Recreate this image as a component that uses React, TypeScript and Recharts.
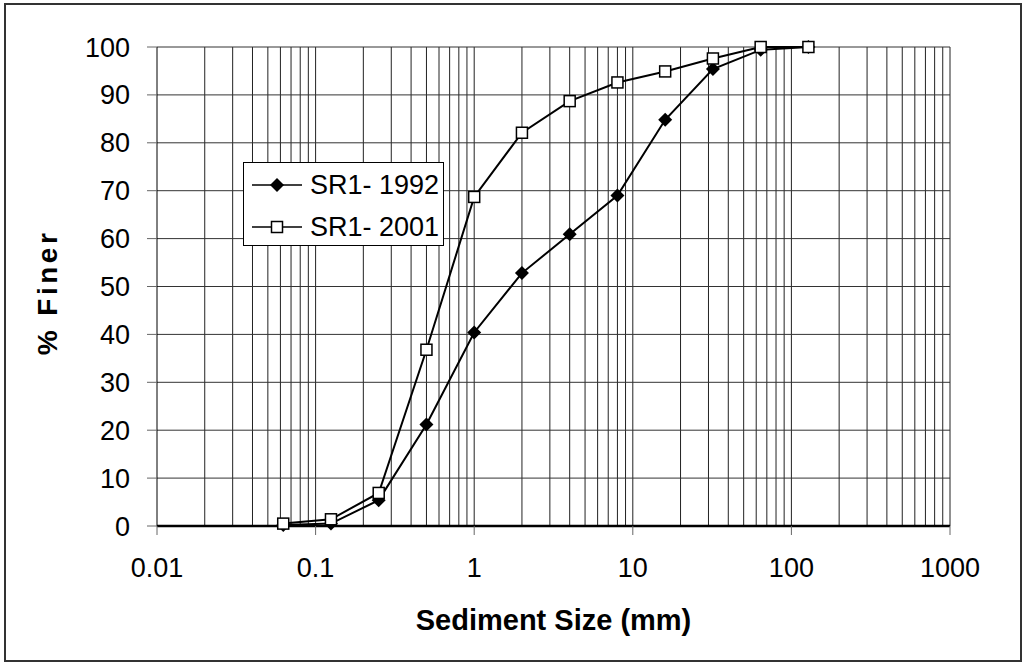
import React from 'react';
import { LineChart, Line, XAxis, YAxis, ReferenceLine } from 'recharts';

// sieve sizes (mm) and percent finer for the two surveys
const SIZES = [0.0625, 0.125, 0.25, 0.5, 1, 2, 4, 8, 16, 32, 64, 128];
const FINER_1992 = [0.2, 0.5, 5.4, 21.2, 40.4, 52.8, 60.9, 69.0, 84.8, 95.4, 99.4, 100];
const FINER_2001 = [0.5, 1.4, 6.9, 36.8, 68.7, 82.1, 88.7, 92.6, 94.9, 97.6, 100, 100];

const X_TICKS = [0.01, 0.1, 1, 10, 100, 1000];
const Y_TICKS = [0, 10, 20, 30, 40, 50, 60, 70, 80, 90, 100];

const SERIES = [
    { key: 'y1992', name: 'SR1- 1992', marker: 'diamond' },
    { key: 'y2001', name: 'SR1- 2001', marker: 'square' },
];

const data = SIZES.map((s, i) => ({ size: s, y1992: FINER_1992[i], y2001: FINER_2001[i] }));

// log-cycle grid: 1..9 in every decade
const minorX: number[] = [];
for (let d = 0; d < 5; d++) {
    for (let m = 1; m <= 9; m++) {
        const v = Number((m * Math.pow(10, d - 2)).toPrecision(3));
        if (v > 0.01) minorX.push(v);
    }
}
minorX.push(1000);

const FONT = 'Arial, "Liberation Sans", sans-serif';

const Diamond = (props: any) => {
    const { cx, cy } = props;
    if (cx == null || cy == null) return null;
    const r = 7;
    return <path d={`M${cx},${cy - r}L${cx + r},${cy}L${cx},${cy + r}L${cx - r},${cy}Z`} fill="#000" />;
};

const Square = (props: any) => {
    const { cx, cy } = props;
    if (cx == null || cy == null) return null;
    return <rect x={cx - 5.5} y={cy - 5.5} width={11} height={11} fill="#fff" stroke="#000" strokeWidth={1.5} />;
};

const LegendBox = () => (
    <div style={{ position: 'absolute', left: 243, top: 162, width: 201, height: 84, border: '1px solid #000', background: '#fff', boxSizing: 'border-box', fontFamily: FONT, fontSize: 27 }}>
        {SERIES.map((s, i) => (
            <div key={s.key} style={{ position: 'absolute', left: 8, top: i === 0 ? 6 : 48, height: 32, display: 'flex', alignItems: 'center' }}>
                <svg width={52} height={20}>
                    <line x1={0} y1={10} x2={50} y2={10} stroke="#000" strokeWidth={1.5} />
                    {s.marker === 'diamond' ? <Diamond cx={25} cy={10} /> : <Square cx={25} cy={10} />}
                </svg>
                <span style={{ marginLeft: 6, color: '#000' }}>{s.name}</span>
            </div>
        ))}
    </div>
);

export default function App() {
    return (
        <div style={{ position: 'absolute', left: 0, top: 0, width: 1025, height: 665 }}>
            <div style={{ position: 'absolute', left: 4, top: 3, width: 1014, height: 655, border: '2px solid #333' }} />
            <div style={{ position: 'absolute', left: 0, top: 0 }}>
                <LineChart width={1025} height={665} data={data} margin={{ top: 47, right: 75, bottom: 39, left: 57 }}>
                    {minorX.map(v => (
                        <ReferenceLine key={`gx${v}`} x={v} stroke="#222" strokeWidth={1} />
                    ))}
                    {Y_TICKS.filter(v => v > 0).map(v => (
                        <ReferenceLine key={`gy${v}`} y={v} stroke="#333" strokeWidth={1} />
                    ))}
                    <XAxis
                        dataKey="size"
                        type="number"
                        scale="log"
                        domain={[0.01, 1000]}
                        ticks={X_TICKS}
                        allowDataOverflow
                        height={100}
                        tickSize={9}
                        tickMargin={23}
                        axisLine={{ stroke: '#000', strokeWidth: 2.5 }}
                        tickLine={{ stroke: '#666' }}
                        tick={{ fill: '#000', fontSize: 27, fontFamily: FONT }}
                        tickFormatter={(v: number) => String(v)}
                        label={{ value: 'Sediment Size (mm)', position: 'insideBottom', offset: -4, fill: '#000', fontSize: 29, fontWeight: 'bold', fontFamily: FONT }}
                    />
                    <YAxis
                        type="number"
                        domain={[0, 100]}
                        ticks={Y_TICKS}
                        width={100}
                        tickSize={10}
                        tickMargin={17}
                        axisLine={{ stroke: '#000' }}
                        tickLine={{ stroke: '#666' }}
                        tick={{ fill: '#000', fontSize: 27, fontFamily: FONT }}
                        label={{ value: '% Finer', angle: -90, position: 'insideLeft', offset: 0, dx: -10, dy: 6, fill: '#000', fontSize: 28, fontWeight: 'bold', fontFamily: FONT, style: { textAnchor: 'middle', letterSpacing: 3.5 } }}
                    />
                    {SERIES.map(s => (
                        <Line
                            key={s.key}
                            dataKey={s.key}
                            name={s.name}
                            type="linear"
                            stroke="#000"
                            strokeWidth={2}
                            dot={s.marker === 'diamond' ? <Diamond /> : <Square />}
                            activeDot={false}
                            isAnimationActive={false}
                        />
                    ))}
                </LineChart>
            </div>
            <LegendBox />
        </div>
    );
}
